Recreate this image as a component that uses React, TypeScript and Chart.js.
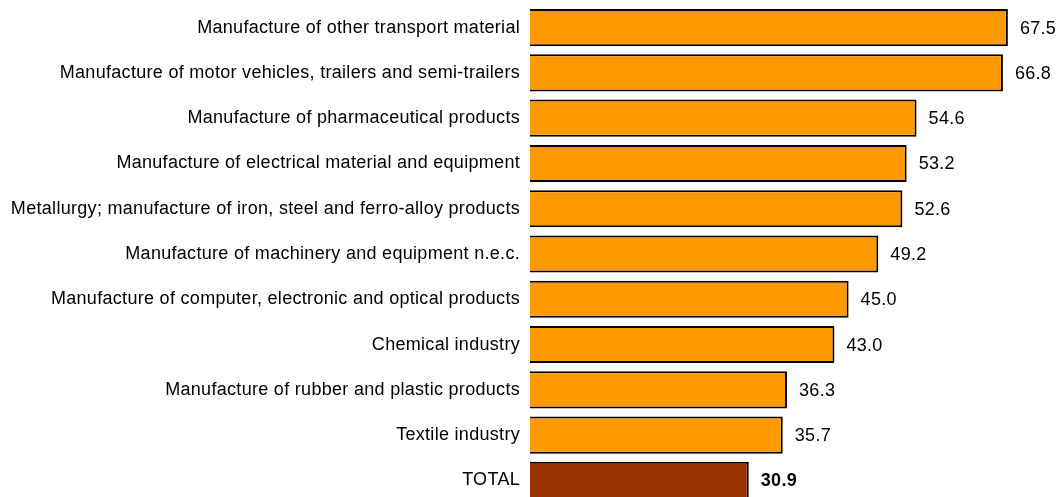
import React, { useEffect, useRef } from "react";
import { Chart, registerables } from "chart.js";

Chart.register(...registerables);

const categories: string[] = [
  "Manufacture of other transport material",
  "Manufacture of motor vehicles, trailers and semi-trailers",
  "Manufacture of pharmaceutical products",
  "Manufacture of electrical material and equipment",
  "Metallurgy; manufacture of iron, steel and ferro-alloy products",
  "Manufacture of machinery and equipment n.e.c.",
  "Manufacture of computer, electronic and optical products",
  "Chemical industry",
  "Manufacture of rubber and plastic products",
  "Textile industry",
  "TOTAL",
];

const values: number[] = [67.5, 66.8, 54.6, 53.2, 52.6, 49.2, 45.0, 43.0, 36.3, 35.7, 30.9];

const barColors: string[] = categories.map((c) => (c === "TOTAL" ? "#993300" : "#FF9900"));

const FONT = "'Liberation Sans', Arial, sans-serif";
const FONT_SIZE = 18;

const spacing = {
  id: "spacing",
  beforeDraw(chart: any) {
    chart.ctx.letterSpacing = "0.3px";
  },
  afterDraw(chart: any) {
    chart.ctx.letterSpacing = "0px";
  },
};

const valueLabels = {
  id: "valueLabels",
  afterDatasetsDraw(chart: any) {
    const ctx = chart.ctx;
    const meta = chart.getDatasetMeta(0);
    ctx.save();
    ctx.fillStyle = "#000";
    ctx.textAlign = "left";
    ctx.textBaseline = "middle";
    meta.data.forEach((bar: any, i: number) => {
      const isTotal = categories[i] === "TOTAL";
      ctx.font = `${isTotal ? "bold " : ""}${FONT_SIZE}px ${FONT}`;
      ctx.fillText(values[i].toFixed(1), bar.x + 12, bar.y + 1);
    });
    ctx.restore();
  },
};

export default function App() {
  const ref = useRef<HTMLCanvasElement | null>(null);
  useEffect(() => {
    if (!ref.current) return;
    const chart = new Chart(ref.current, {
      type: "bar",
      data: {
        labels: categories,
        datasets: [
          {
            data: values,
            backgroundColor: barColors,
            borderColor: "#000000",
            borderWidth: 2,
            barPercentage: 0.82,
            categoryPercentage: 1,
          },
        ],
      },
      options: {
        indexAxis: "y",
        animation: false,
        responsive: false,
        maintainAspectRatio: false,
        layout: { padding: { top: 5, left: 0, right: 0, bottom: 0 } },
        plugins: {
          legend: { display: false },
          tooltip: { enabled: false },
        },
        scales: {
          x: {
            display: false,
            min: 0,
            max: 75,
          },
          y: {
            grid: { display: false, drawTicks: false },
            border: { display: false },
            ticks: {
              color: "#000",
              padding: 10,
              autoSkip: false,
              font: { family: FONT, size: FONT_SIZE },
            },
            afterFit: (scale: any) => {
              scale.width = 530;
              scale.paddingTop = 0;
              scale.paddingBottom = 0;
            },
          },
        },
      },
      plugins: [spacing, valueLabels],
    });
    return () => chart.destroy();
  }, []);

  return (
    <div
      style={{
        position: "absolute",
        left: 0,
        top: 0,
        width: 1061,
        height: 497,
        overflow: "hidden",
        background: "#fff",
      }}
    >
      <canvas ref={ref} width={1061} height={503} style={{ display: "block" }} />
    </div>
  );
}
